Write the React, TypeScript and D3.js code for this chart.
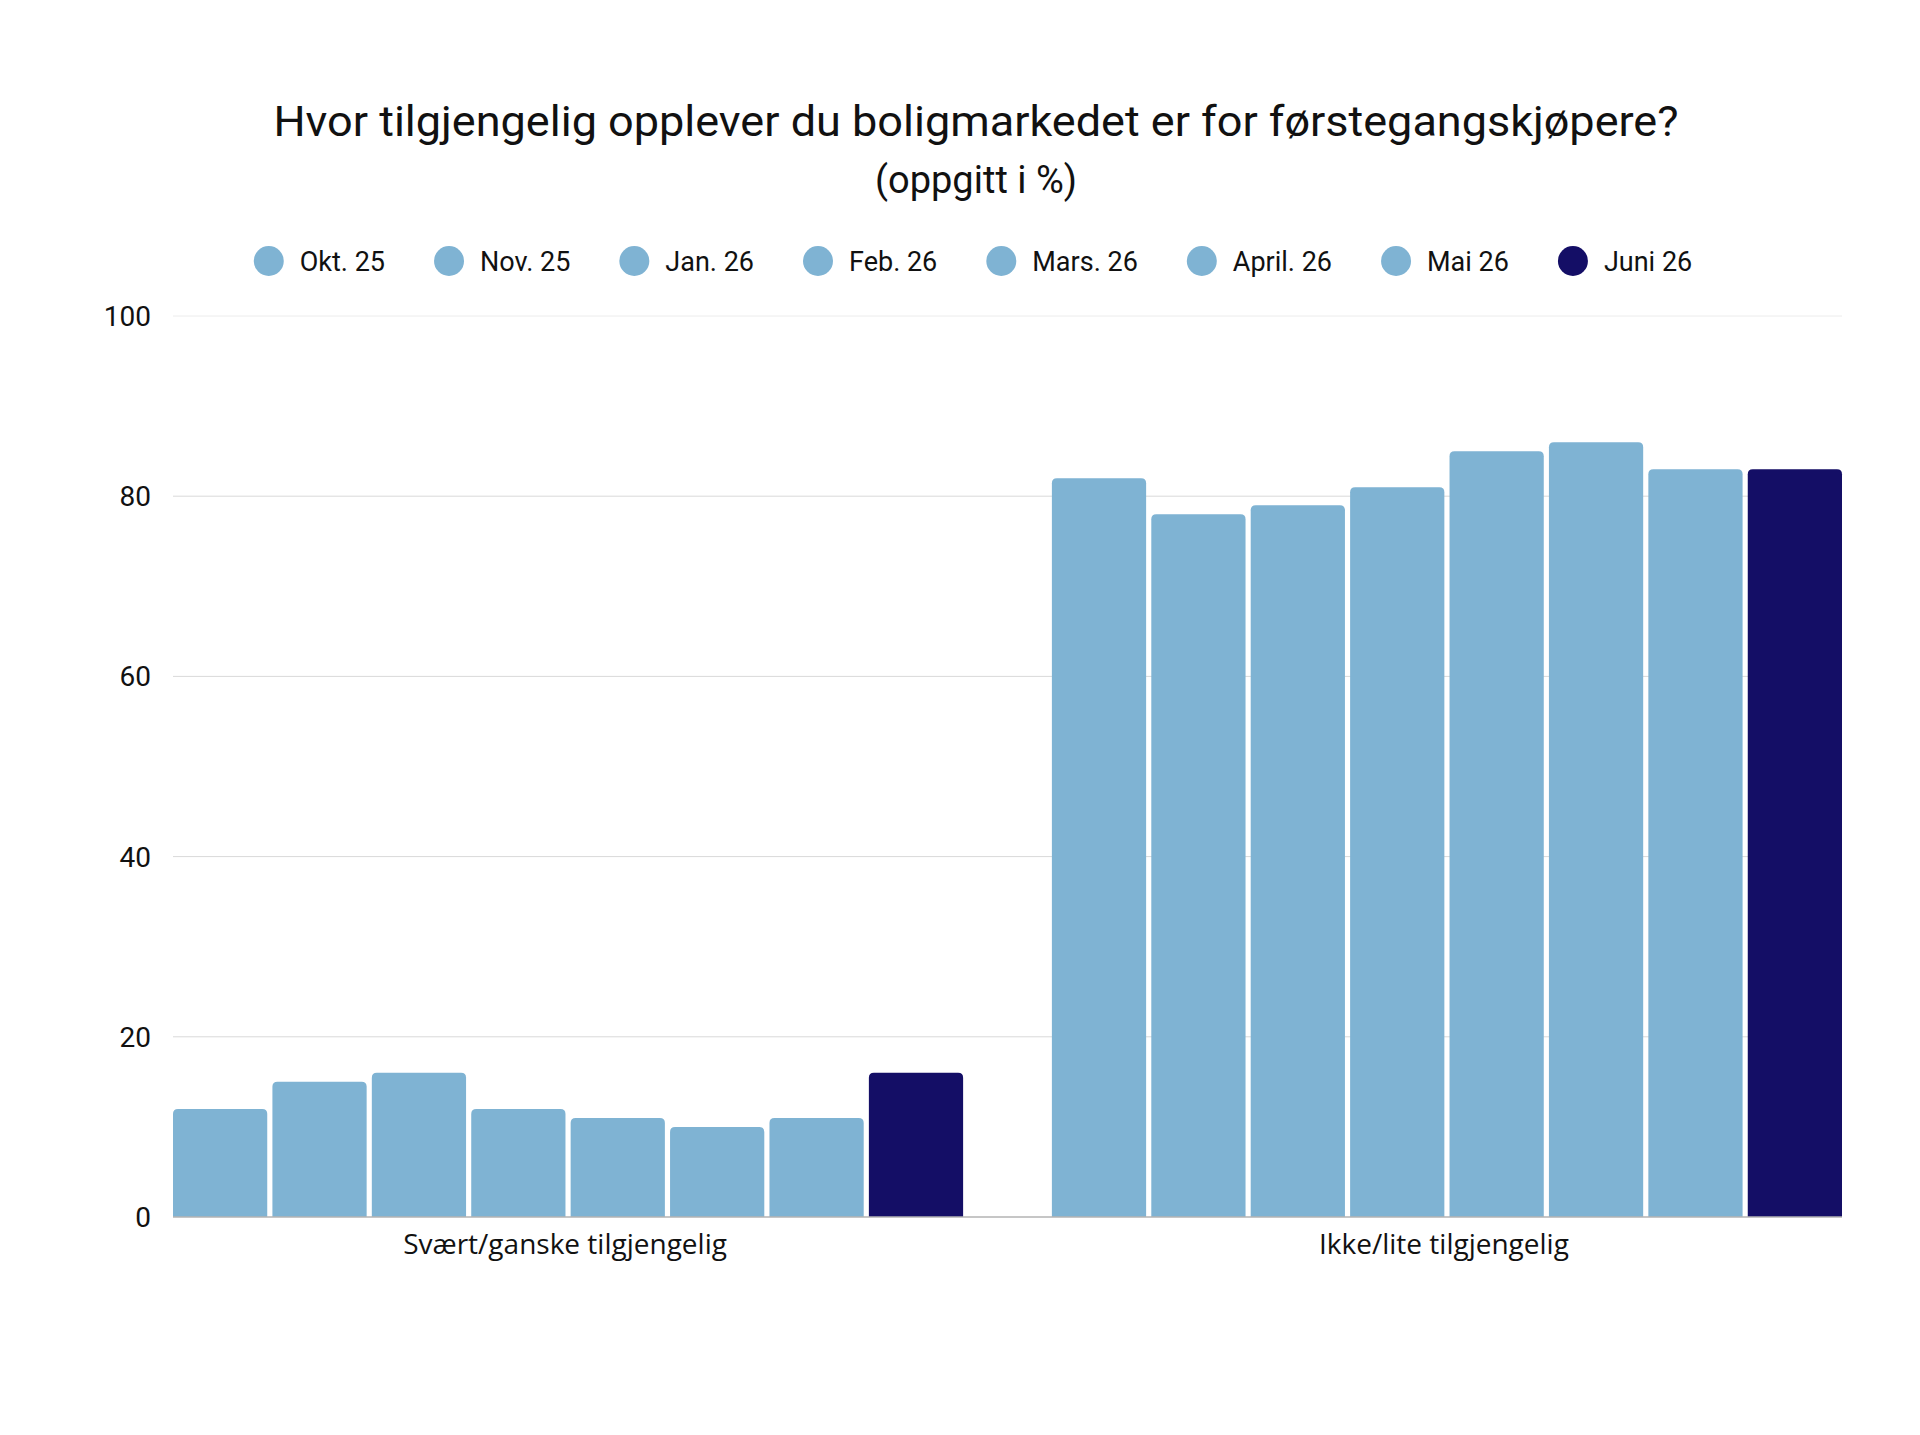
import React, { useEffect, useRef } from "react";
import * as d3 from "d3";

const titleText = "Hvor tilgjengelig opplever du boligmarkedet er for førstegangskjøpere?";
const subtitleText = "(oppgitt i %)";
const categories = ["Svært/ganske tilgjengelig", "Ikke/lite tilgjengelig"];
const seriesNames = ["Okt. 25", "Nov. 25", "Jan. 26", "Feb. 26", "Mars. 26", "April. 26", "Mai 26", "Juni 26"];
const svartGanske = [12, 15, 16, 12, 11, 10, 11, 16];
const ikkeLite = [82, 78, 79, 81, 85, 86, 83, 83];
const yTicks = [0, 20, 40, 60, 80, 100];
const LIGHT = "#7fb3d3";
const DARK = "#140e66";
const seriesColors = [LIGHT, LIGHT, LIGHT, LIGHT, LIGHT, LIGHT, LIGHT, DARK];

const W = 1920;
const H = 1435;
const M = { left: 173, right: 78, top: 316, bottom: 218 };
const FONT = "Roboto, 'Noto Sans', sans-serif";
const LABEL_FONT = "'Open Sans', 'Noto Sans', sans-serif";

function topRounded(x: number, y: number, w: number, h: number, r: number) {
  const rr = Math.min(r, h, w / 2);
  return `M${x},${y + h}V${y + rr}Q${x},${y} ${x + rr},${y}H${x + w - rr}Q${x + w},${y} ${x + w},${y + rr}V${y + h}Z`;
}

export default function App() {
  const ref = useRef<SVGSVGElement | null>(null);

  useEffect(() => {
    const svg = d3.select(ref.current);
    svg.selectAll("*").remove();

    const values = [svartGanske, ikkeLite];
    const x0 = d3.scaleBand<string>().domain(categories).range([M.left, W - M.right]).paddingInner(0.101).paddingOuter(0);
    const x1 = d3.scaleBand<string>().domain(seriesNames).range([0, x0.bandwidth()]).paddingInner(0.052).paddingOuter(0);
    const y = d3.scaleLinear().domain([0, 100]).range([H - M.bottom, M.top]);

    // Title
    svg.append("text").attr("x", 976).attr("y", 136).attr("text-anchor", "middle")
      .attr("font-family", FONT).attr("font-size", 42).attr("fill", "#111")
      .attr("textLength", 1405).attr("lengthAdjust", "spacingAndGlyphs").text(titleText);
    svg.append("text").attr("x", 976).attr("y", 193).attr("text-anchor", "middle")
      .attr("font-family", FONT).attr("font-size", 38).attr("fill", "#111").text(subtitleText);

    // Grid
    const grid = svg.append("g");
    yTicks.filter((t) => t > 0).forEach((t) => {
      grid.append("line").attr("x1", M.left).attr("x2", W - M.right).attr("y1", y(t)).attr("y2", y(t))
        .attr("stroke", t === 100 ? "#ececec" : "#d9d9d9").attr("stroke-width", 1);
    });
    // Y tick labels
    yTicks.forEach((t) => {
      svg.append("text").attr("x", 151).attr("y", y(t)).attr("dy", "0.36em").attr("text-anchor", "end")
        .attr("font-family", FONT).attr("font-size", 28).attr("fill", "#111").text(String(t));
    });

    // Bars
    categories.forEach((c, ci) => {
      const g = svg.append("g").attr("transform", `translate(${x0(c)},0)`);
      seriesNames.forEach((s, si) => {
        const v = values[ci][si];
        const bx = x1(s) as number;
        g.append("path").attr("d", topRounded(bx, y(v), x1.bandwidth(), y(0) - y(v), 5))
          .attr("fill", seriesColors[si]);
      });
      svg.append("text").attr("x", (x0(c) as number) + x0.bandwidth() / 2 - 3).attr("y", 1254)
        .attr("text-anchor", "middle").attr("font-family", LABEL_FONT).attr("font-size", 28).attr("fill", "#111").text(c);
    });

    // Baseline
    svg.append("line").attr("x1", M.left).attr("x2", W - M.right).attr("y1", y(0)).attr("y2", y(0))
      .attr("stroke", "#b3b3b3").attr("stroke-width", 1.5);

    // Legend
    const lg = svg.append("g");
    const items: { g: any; w: number }[] = [];
    seriesNames.forEach((s, i) => {
      const ig = lg.append("g");
      ig.append("circle").attr("cx", 0).attr("cy", 261).attr("r", 15).attr("fill", seriesColors[i]);
      const t = ig.append("text").attr("x", 31).attr("y", 261).attr("dy", "0.36em")
        .attr("font-family", FONT).attr("font-size", 27).attr("fill", "#111").text(s);
      const tw = (t.node() as SVGTextElement).getComputedTextLength();
      items.push({ g: ig, w: 31 + tw });
    });
    const gap = 64;
    const total = items.reduce((a, it) => a + it.w, 0) + gap * (items.length - 1) + 15;
    let cx = 973 - total / 2 + 15;
    items.forEach((it) => {
      it.g.attr("transform", `translate(${cx},0)`);
      cx += it.w + gap;
    });
  }, []);

  return (
    <svg ref={ref} width={W} height={H} style={{ position: "absolute", left: 0, top: 0, background: "#fff" }} />
  );
}
